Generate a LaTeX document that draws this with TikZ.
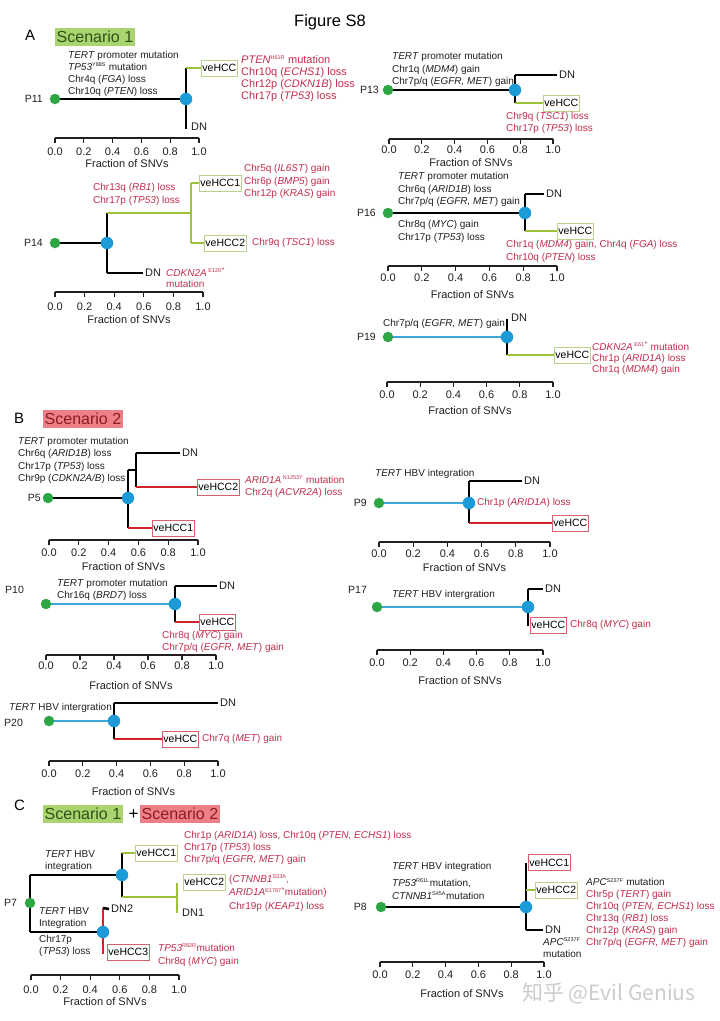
\documentclass[tikz,border=0pt]{standalone}
\usepackage{fontspec}
\setmainfont{Liberation Sans}
\setsansfont{Liberation Sans}
\newfontfamily\cjkfont{Noto Sans CJK SC}
\definecolor{txt}{HTML}{231F20}
\definecolor{rtxt}{HTML}{C22E4E}
\definecolor{gdotc}{HTML}{2DA646}
\definecolor{bdotc}{HTML}{1C9BD8}
\definecolor{bline}{HTML}{3CA7D9}
\definecolor{gline}{HTML}{9CC23A}
\definecolor{rline}{HTML}{D2232A}
\definecolor{gbox}{HTML}{B9D48A}
\definecolor{rbox}{HTML}{D8606E}
\definecolor{sonebg}{HTML}{A9D470}
\definecolor{sonetx}{HTML}{2F5216}
\definecolor{stwobg}{HTML}{EE7F86}
\definecolor{stwotx}{HTML}{8A1C22}
\pgfdeclarelayer{bg}
\pgfsetlayers{bg,main}
\newcommand\sps[1]{\textsuperscript{\fontsize{5.5}{6}\selectfont #1}}
\newcommand\myaxis[6]{%
  \draw[axisline] (#2,#4) -- (#3,#4);
  \foreach \k/\lab in {0/0.0,1/0.2,2/0.4,3/0.6,4/0.8,5/1.0}{%
    \draw[axisline] ({#2+(#3-#2)*\k/5},#4) -- ++(0,4.5);
    \node[ticklbl] (#1t\k) at ({#2+(#3-#2)*\k/5},#5) {\lab};
  }
  \node[ticklbl] (#1x) at ({(#2+#3)/2},#6) {Fraction of SNVs};
}
\tikzset{
  lbl/.style={font=\fontsize{10}{12.2}\selectfont, inner sep=0pt, anchor=west, align=left, text=txt},
  rl/.style={lbl, text=rtxt},
  dn/.style={font=\fontsize{11}{12}\selectfont, inner xsep=2pt, inner ysep=0pt, anchor=west, text=txt},
  pl/.style={font=\fontsize{10.5}{12}\selectfont, inner sep=0pt, anchor=east, text=txt},
  gbx/.style={draw=gbox, line width=0.9pt, font=\fontsize{10.5}{12}\selectfont, inner xsep=1pt, inner ysep=0pt, minimum height=16pt, anchor=west, text=black},
  rbx/.style={gbx, draw=rbox},
  gdot/.style={circle, fill=gdotc, minimum size=10.5pt, inner sep=0pt},
  bdot/.style={circle, fill=bdotc, minimum size=12.5pt, inner sep=0pt},
  blk/.style={draw=black, line width=2.6pt},
  gl/.style={draw=gline, line width=2.6pt},
  bl/.style={draw=bline, line width=2.6pt},
  redln/.style={draw=rline, line width=2.6pt},
  axisline/.style={draw=txt, line width=1.1pt},
  ticklbl/.style={font=\fontsize{11}{12}\selectfont, inner sep=0pt, text=txt},
  panel/.style={font=\fontsize{15}{16}\selectfont, inner sep=0pt, anchor=west, text=black},
  sone/.style={fill=sonebg, text=sonetx, font=\fontsize{16}{18}\selectfont, inner xsep=1.5pt, inner ysep=0pt, minimum height=18pt, anchor=west},
  stwo/.style={sone, fill=stwobg, text=stwotx},
}
\begin{document}
\begin{tikzpicture}[x=1pt,y=-1pt]
\begin{pgfonlayer}{bg}
\fill[white] (0,0) rectangle (720,1021);
\end{pgfonlayer}
\useasboundingbox (0,0) rectangle (720,1021);

% ---------- headings ----------
\node[font=\fontsize{16.5}{18}\selectfont, inner sep=0pt] (fig) at (330,22) {Figure S8};
\node[panel] (lA) at (25,35) {A};
\node[sone] (s1) at (55,36.5) {Scenario 1};

% ---------- P11 ----------
\node[pl] (p11) at (43,99) {P11};
\node[gdot] (p11g) at (55,99) {};
\node[bdot] (p11b) at (186,99) {};
\coordinate (p11c1) at (186,68);
\coordinate (p11c2) at (186,129);
\node[gbx] (p11v) at (201,68) {veHCC};
\node[dn] (p11dn) at (189,127) {DN};
\node[lbl] (p11m) at (68,74) {\textit{TERT} promoter mutation\\ \textit{TP53}\sps{Y88S} mutation\\ Chr4q (\textit{FGA}) loss\\ Chr10q (\textit{PTEN}) loss};
\node[rl, font=\fontsize{11}{12}\selectfont] (p11r) at (241,79) {\textit{PTEN}\sps{H61R} mutation\\ Chr10q (\textit{ECHS1}) loss\\ Chr12p (\textit{CDKN1B}) loss\\ Chr17p (\textit{TP53}) loss};
\myaxis{a11}{55}{199}{138}{152}{164}
\begin{pgfonlayer}{bg}
\draw[blk] (p11g) -- (p11b);
\draw[blk] (p11c1) -- (p11c2);
\draw[gl] (p11c1) -- (p11v.west);
\end{pgfonlayer}

% ---------- P14 ----------
\node[pl] (p14) at (43,243) {P14};
\node[gdot] (p14g) at (55,243) {};
\node[bdot] (p14b) at (107,243) {};
\coordinate (p14c1) at (107,213);
\coordinate (p14c2) at (107,273);
\coordinate (p14c3) at (191,213);
\coordinate (p14c4) at (191,183);
\coordinate (p14c5) at (191,243);
\node[dn] (p14dn) at (143,273) {DN};
\node[gbx] (p14v1) at (199,183) {veHCC1};
\node[gbx] (p14v2) at (204,243) {veHCC2};
\node[rl] (p14r1) at (93,194.5) {Chr13q (\textit{RB1}) loss\\ Chr17p (\textit{TP53}) loss};
\node[rl] (p14r2) at (244,181.5) {Chr5q (\textit{IL6ST}) gain\\ Chr6p (\textit{BMP5}) gain\\ Chr12p (\textit{KRAS}) gain};
\node[rl] (p14r3) at (252,243) {Chr9q (\textit{TSC1}) loss};
\node[rl, font=\fontsize{10}{11.5}\selectfont] (p14r4) at (166,278) {\textit{CDKN2A}\,\sps{E120}\textsuperscript{*}\\ mutation};
\myaxis{a14}{55}{203}{292}{307}{320}
\begin{pgfonlayer}{bg}
\draw[blk] (p14g) -- (p14b);
\draw[blk] (p14c1) -- (p14c2);
\draw[blk] (p14c2) -- (p14dn.west);
\draw[gl] (p14c1) -- (p14c3);
\draw[gl] (p14c4) -- (p14c5);
\draw[gl] (p14c4) -- (p14v1.west);
\draw[gl] (p14c5) -- (p14v2.west);
\end{pgfonlayer}

% ---------- P13 ----------
\node[pl] (p13) at (379,90) {P13};
\node[gdot] (p13g) at (388,90) {};
\node[bdot] (p13b) at (515,90) {};
\coordinate (p13c1) at (515,75);
\coordinate (p13c2) at (515,103);
\node[dn] (p13dn) at (557,75) {DN};
\node[gbx] (p13v) at (543,103) {veHCC};
\node[lbl] (p13m) at (392,69.5) {\textit{TERT} promoter mutation\\ Chr1q (\textit{MDM4}) gain\\ Chr7p/q (\textit{EGFR, MET}) gain};
\node[rl] (p13r) at (506,123) {Chr9q (\textit{TSC1}) loss\\ Chr17p (\textit{TP53}) loss};
\myaxis{a13}{389}{553}{139}{150}{163}
\begin{pgfonlayer}{bg}
\draw[blk] (p13g) -- (p13b);
\draw[blk] (p13c1) -- (p13c2);
\draw[blk] (p13c1) -- (p13dn.west);
\draw[gl] (p13c2) -- (p13v.west);
\end{pgfonlayer}

% ---------- P16 ----------
\node[pl] (p16) at (376,213) {P16};
\node[gdot] (p16g) at (388,213) {};
\node[bdot] (p16b) at (525,213) {};
\coordinate (p16c1) at (525,194);
\coordinate (p16c2) at (525,231);
\node[dn] (p16dn) at (544,194) {DN};
\node[gbx] (p16v) at (557,231) {veHCC};
\node[lbl] (p16m1) at (398,189.5) {\textit{TERT} promoter mutation\\ Chr6q (\textit{ARID1B}) loss\\ Chr7p/q (\textit{EGFR, MET}) gain};
\node[lbl] (p16m2) at (398,231.5) {Chr8q (\textit{MYC}) gain\\ Chr17p (\textit{TP53}) loss};
\node[rl] (p16r) at (506,251.5) {Chr1q (\textit{MDM4}) gain, Chr4q (\textit{FGA}) loss\\ Chr10q (\textit{PTEN}) loss};
\myaxis{a16}{388}{557}{266}{278}{295}
\begin{pgfonlayer}{bg}
\draw[blk] (p16g) -- (p16b);
\draw[blk] (p16c1) -- (p16c2);
\draw[blk] (p16c1) -- (p16dn.west);
\draw[gl] (p16c2) -- (p16v.west);
\end{pgfonlayer}

% ---------- P19 ----------
\node[pl] (p19) at (376,337) {P19};
\node[gdot] (p19g) at (388,337) {};
\node[bdot] (p19b) at (507,337) {};
\coordinate (p19c1) at (507,319);
\coordinate (p19c2) at (507,355);
\node[dn] (p19dn) at (509,318) {DN};
\node[gbx] (p19v) at (554,355) {veHCC};
\node[lbl] (p19m) at (383,324) {Chr7p/q (\textit{EGFR, MET}) gain};
\node[rl, font=\fontsize{10}{11.3}\selectfont] (p19r) at (592,358.5) {\textit{CDKN2A}\,\sps{E61}\textsuperscript{*} mutation\\ Chr1p (\textit{ARID1A}) loss\\ Chr1q (\textit{MDM4}) gain};
\myaxis{a19}{387}{553}{382}{395}{411}
\begin{pgfonlayer}{bg}
\draw[bl] (p19g) -- (p19b);
\draw[blk] (p19c1) -- (p19c2);
\draw[gl] (p19c2) -- (p19v.west);
\end{pgfonlayer}

% ---------- B ----------
\node[panel] (lB) at (14,418) {B};
\node[stwo] (s2) at (43,419) {Scenario 2};

% ---------- P5 ----------
\node[lbl] (p5m) at (18,460.5) {\textit{TERT} promoter mutation\\ Chr6q (\textit{ARID1B}) loss\\ Chr17p (\textit{TP53}) loss\\ Chr9p (\textit{CDKN2A/B}) loss};
\node[pl] (p5) at (41,498) {P5};
\node[gdot] (p5g) at (48,498) {};
\node[bdot] (p5b) at (128,498) {};
\coordinate (p5c1) at (128,470);
\coordinate (p5c2) at (128,528);
\coordinate (p5c3) at (136,470);
\coordinate (p5c4) at (136,453);
\coordinate (p5c5) at (136,487);
\node[dn] (p5dn) at (180,453) {DN};
\node[rbx] (p5v2) at (197,487) {veHCC2};
\node[rbx] (p5v1) at (152,528) {veHCC1};
\node[rl] (p5r) at (245,487) {\textit{ARID1A}\,\sps{N1253Y} mutation\\ Chr2q (\textit{ACVR2A}) loss};
\myaxis{a5}{49}{198}{540}{553}{567}
\begin{pgfonlayer}{bg}
\draw[blk] (p5g) -- (p5b);
\draw[blk] (p5c1) -- (p5c2);
\draw[blk] (p5c1) -- (p5c3);
\draw[blk] (p5c4) -- (p5c5);
\draw[blk] (p5c4) -- (p5dn.west);
\draw[redln] (p5c5) -- (p5v2.west);
\draw[redln] (p5c2) -- (p5v1.west);
\end{pgfonlayer}

% ---------- P9 ----------
\node[pl] (p9) at (367,503) {P9};
\node[gdot] (p9g) at (379,503) {};
\node[bdot] (p9b) at (469,503) {};
\coordinate (p9c1) at (469,481);
\coordinate (p9c2) at (469,523);
\node[dn] (p9dn) at (522,481) {DN};
\node[rbx] (p9v) at (552,523) {veHCC};
\node[lbl] (p9m) at (375,474) {\textit{TERT} HBV integration};
\node[rl] (p9r) at (477,503) {Chr1p (\textit{ARID1A}) loss};
\myaxis{a9}{379}{550}{542}{554}{568}
\begin{pgfonlayer}{bg}
\draw[bl] (p9g) -- (p9b);
\draw[blk] (p9c1) -- (p9c2);
\draw[blk] (p9c1) -- (p9dn.west);
\draw[redln] (p9c2) -- (p9v.west);
\end{pgfonlayer}

% ---------- P10 ----------
\node[pl, anchor=west] (p10) at (5,590) {P10};
\node[gdot] (p10g) at (46,604) {};
\node[bdot] (p10b) at (175,604) {};
\coordinate (p10c1) at (175,586);
\coordinate (p10c2) at (175,622);
\node[dn] (p10dn) at (217,586) {DN};
\node[rbx] (p10v) at (199,622) {veHCC};
\node[lbl] (p10m) at (57,590) {\textit{TERT} promoter mutation\\ Chr16q (\textit{BRD7}) loss};
\node[rl] (p10r) at (162,642) {Chr8q (\textit{MYC}) gain\\ Chr7p/q (\textit{EGFR, MET}) gain};
\myaxis{a10}{46}{216}{655}{666}{686}
\begin{pgfonlayer}{bg}
\draw[bl] (p10g) -- (p10b);
\draw[blk] (p10c1) -- (p10c2);
\draw[blk] (p10c1) -- (p10dn.west);
\draw[redln] (p10c2) -- (p10v.west);
\end{pgfonlayer}

% ---------- P17 ----------
\node[pl, anchor=west] (p17) at (348,590) {P17};
\node[gdot] (p17g) at (377,607) {};
\node[bdot] (p17b) at (528,607) {};
\coordinate (p17c1) at (528,589);
\coordinate (p17c2) at (528,626);
\node[dn] (p17dn) at (543,589) {DN};
\node[rbx] (p17v) at (530,625) {veHCC};
\node[lbl] (p17m) at (392,595) {\textit{TERT} HBV intergration};
\node[rl] (p17r) at (570,625) {Chr8q (\textit{MYC}) gain};
\myaxis{a17}{377}{543}{650}{663}{681}
\begin{pgfonlayer}{bg}
\draw[bl] (p17g) -- (p17b);
\draw[blk] (p17c1) -- (p17c2);
\draw[blk] (p17c1) -- (p17dn.west);
\end{pgfonlayer}

% ---------- P20 ----------
\node[pl, anchor=west] (p20) at (4,723) {P20};
\node[gdot] (p20g) at (49,721) {};
\node[bdot] (p20b) at (114,721) {};
\coordinate (p20c1) at (114,703);
\coordinate (p20c2) at (114,739);
\node[dn] (p20dn) at (218,703) {DN};
\node[rbx] (p20v) at (162,739) {veHCC};
\node[lbl] (p20m) at (9,708) {\textit{TERT} HBV intergration};
\node[rl] (p20r) at (202,739) {Chr7q (\textit{MET}) gain};
\myaxis{a20}{49}{218}{761}{774}{792}
\begin{pgfonlayer}{bg}
\draw[bl] (p20g) -- (p20b);
\draw[blk] (p20c1) -- (p20c2);
\draw[blk] (p20c1) -- (p20dn.west);
\draw[redln] (p20c2) -- (p20v.west);
\end{pgfonlayer}

% ---------- C ----------
\node[panel] (lC) at (14,805) {C};
\node[sone] (s1c) at (43,814) {Scenario 1};
\node[font=\fontsize{17}{18}\selectfont, inner sep=0pt, text=black] (plus) at (133.5,815) {+};
\node[stwo] (s2c) at (140,814) {Scenario 2};

% ---------- P7 ----------
\node[pl, anchor=west] (p7) at (4,903) {P7};
\node[gdot] (p7g) at (30,903) {};
\node[bdot] (p7b1) at (122,875) {};
\node[bdot] (p7b2) at (103,932) {};
\coordinate (p7c1) at (30,875);
\coordinate (p7c2) at (30,932);
\coordinate (p7c3) at (122,853);
\coordinate (p7c4) at (122,897);
\coordinate (p7c5) at (177,897);
\coordinate (p7c6) at (177,883);
\coordinate (p7c7) at (177,913);
\coordinate (p7c8) at (103,908);
\coordinate (p7c9) at (103,954);
\node[gbx] (p7v1) at (135,853) {veHCC1};
\node[gbx] (p7v2) at (183,882) {veHCC2};
\node[dn, inner xsep=0pt] (p7dn1) at (182,913) {DN1};
\node[dn] (p7dn2) at (109,909) {DN2};
\node[rbx] (p7v3) at (107,952) {veHCC3};
\node[lbl] (p7m1) at (45,861) {\textit{TERT} HBV\\ integration};
\node[lbl, font=\fontsize{10}{12}\selectfont] (p7m2) at (39,918) {\textit{TERT} HBV\\ Integration};
\node[lbl, font=\fontsize{10}{12}\selectfont] (p7m3) at (39,946) {Chr17p\\ (\textit{TP53}) loss};
\node[rl] (p7r1) at (184,848) {Chr1p (\textit{ARID1A}) loss, Chr10q (\textit{PTEN, ECHS1}) loss\\ Chr17p (\textit{TP53}) loss\\ Chr7p/q (\textit{EGFR, MET}) gain};
\node[rl, font=\fontsize{10}{13.5}\selectfont] (p7r2) at (229,893) {(\textit{CTNNB1}\sps{S33A},\\ \textit{ARID1A}\sps{E1787}\textsuperscript{*}mutation)\\ Chr19p (\textit{KEAP1}) loss};
\node[rl, font=\fontsize{10}{13}\selectfont] (p7r3) at (158,955) {\textit{TP53}\sps{R82R}mutation\\ Chr8q (\textit{MYC}) gain};
\myaxis{a7}{31}{179}{975}{990}{1002}
\begin{pgfonlayer}{bg}
\draw[blk] (p7c1) -- (p7c2);
\draw[blk] (p7c1) -- (p7b1);
\draw[blk] (p7c2) -- (p7b2);
\draw[blk] (p7c3) -- (p7c4);
\draw[gl] (p7c3) -- (p7v1.west);
\draw[gl] (p7c4) -- (p7c5);
\draw[gl] (p7c6) -- (p7c7);
\draw[redln] (p7c8) -- (p7c9);
\draw[blk] (p7c8) -- (p7dn2.west);
\end{pgfonlayer}

% ---------- P8 ----------
\node[pl] (p8) at (367,907) {P8};
\node[gdot] (p8g) at (381,907) {};
\node[bdot] (p8b) at (526,907) {};
\coordinate (p8c1) at (526,863);
\coordinate (p8c2) at (526,930);
\coordinate (p8c3) at (526,890);
\node[rbx] (p8v1) at (528,862.5) {veHCC1};
\node[gbx] (p8v2) at (535,890) {veHCC2};
\node[dn] (p8dn) at (543,930) {DN};
\node[lbl] (p8apc) at (543,947.5) {\textit{APC}\sps{S237F}\\ mutation};
\node[lbl] (p8m1) at (392,867) {\textit{TERT} HBV integration};
\node[lbl, font=\fontsize{10}{13}\selectfont] (p8m2) at (392,889) {\textit{TP53}\sps{R61L}mutation,\\ \textit{CTNNB1}\sps{S45A}mutation};
\node[lbl] (p8m3) at (586,882) {\textit{APC}\sps{S237F} mutation};
\node[rl, font=\fontsize{10}{12}\selectfont] (p8r) at (586,918.5) {Chr5p (\textit{TERT}) gain\\ Chr10q (\textit{PTEN, ECHS1}) loss\\ Chr13q (\textit{RB1}) loss\\ Chr12p (\textit{KRAS}) gain\\ Chr7p/q (\textit{EGFR, MET}) gain};
\myaxis{a8}{380}{544}{962}{975}{994}
\begin{pgfonlayer}{bg}
\draw[blk] (p8g) -- (p8b);
\draw[blk] (p8c1) -- (p8c2);
\draw[gl] (p8c3) -- (p8v2.west);
\draw[blk] (p8c2) -- (p8dn.west);
\end{pgfonlayer}

\node[text=black!20, font=\cjkfont\fontsize{21}{24}\selectfont, inner sep=0pt, anchor=west] (wm) at (522,993) {知乎 @Evil Genius};
\end{tikzpicture}
\end{document}
